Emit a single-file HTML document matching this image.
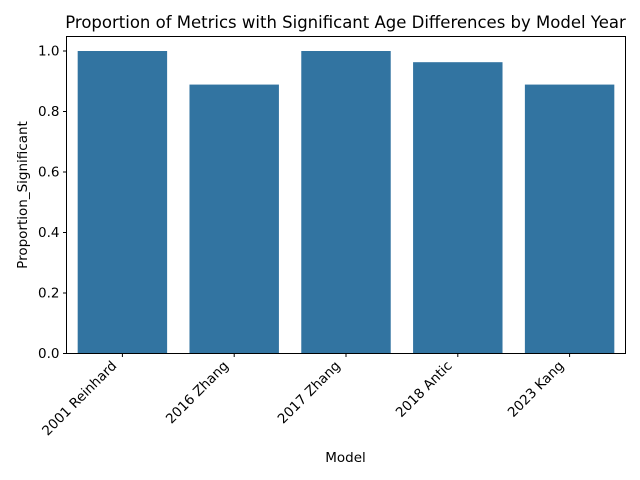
<!DOCTYPE html>
<html><head><meta charset="utf-8"><style>
html,body{margin:0;padding:0;background:#fff;}
svg{display:block;font-family:"DejaVu Sans","Liberation Sans",sans-serif;}
</style></head><body>
<svg id="chart" width="640" height="480" viewBox="0 0 640 480">
<text x="345.5" y="28" font-size="16.5" text-anchor="middle" fill="#000">Proportion of Metrics with Significant Age Differences by Model Year</text>
<g id="bars"></g>
<g id="yticks"></g>
<g id="xticks"></g>
<rect x="66.5" y="36.5" width="559" height="317" fill="none" stroke="#000" stroke-width="1"/>
<text x="345.5" y="462" font-size="13.5" text-anchor="middle">Model</text>
<text transform="translate(27,195) rotate(-90)" font-size="13.5" text-anchor="middle">Proportion_Significant</text>
</svg>
<script>
const categories = ["2001 Reinhard","2016 Zhang","2017 Zhang","2018 Antic","2023 Kang"];
const values = [1.0, 0.889, 1.0, 0.963, 0.889];
const yTicks = [0.0, 0.2, 0.4, 0.6, 0.8, 1.0];
const yTickLabels = ["0.0","0.2","0.4","0.6","0.8","1.0"];

const NS = "http://www.w3.org/2000/svg";
const L = 66.5, R = 625.5, B = 353.5, T = 36.5;
const yScale = v => B - v * 302.5;
const band = (R - L) / categories.length;
const xCenter = i => L + band * (i + 0.5);
const bw = band * 0.8;

const bars = document.getElementById("bars");
values.forEach((v, i) => {
  const r = document.createElementNS(NS, "rect");
  r.setAttribute("x", xCenter(i) - bw / 2);
  r.setAttribute("y", yScale(v));
  r.setAttribute("width", bw);
  r.setAttribute("height", B - yScale(v));
  r.setAttribute("fill", "#3274a1");
  
  
  bars.appendChild(r);
});

const yg = document.getElementById("yticks");
yTicks.forEach((t, i) => {
  const y = yScale(t);
  const ln = document.createElementNS(NS, "line");
  ln.setAttribute("x1", L - 3.5); ln.setAttribute("x2", L);
  ln.setAttribute("y1", y); ln.setAttribute("y2", y);
  ln.setAttribute("stroke", "#000");
  
  
  yg.appendChild(ln);
  const tx = document.createElementNS(NS, "text");
  tx.setAttribute("x", L - 7); tx.setAttribute("y", y + 4.5);
  tx.setAttribute("font-size", "13.5"); tx.setAttribute("text-anchor", "end");
  tx.textContent = yTickLabels[i];
  
  
  yg.appendChild(tx);
});

const xg = document.getElementById("xticks");
categories.forEach((c, i) => {
  const x = xCenter(i);
  const ln = document.createElementNS(NS, "line");
  ln.setAttribute("x1", x); ln.setAttribute("x2", x);
  ln.setAttribute("y1", B); ln.setAttribute("y2", B + 3.5);
  ln.setAttribute("stroke", "#000");
  
  
  xg.appendChild(ln);
  const tx = document.createElementNS(NS, "text");
  tx.setAttribute("transform", "translate(" + (x - 5) + "," + (B + 13) + ") rotate(-45)");
  tx.setAttribute("font-size", "13.5"); tx.setAttribute("text-anchor", "end");
  tx.textContent = c;
  
  
  xg.appendChild(tx);
});
</script>
</body></html>
